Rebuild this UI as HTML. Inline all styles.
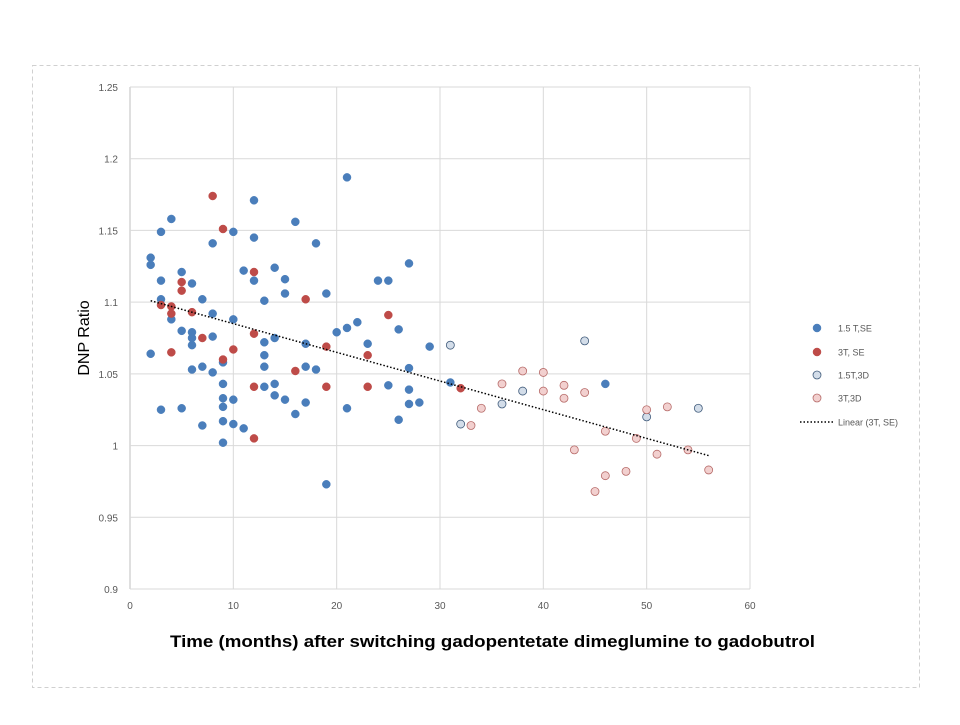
<!DOCTYPE html>
<html><head><meta charset="utf-8"><style>
body{margin:0;background:#fff;width:960px;height:720px;overflow:hidden;font-family:"Liberation Sans",sans-serif}
</style></head><body>
<svg id="chart" width="960" height="720" xmlns="http://www.w3.org/2000/svg" font-family="Liberation Sans, sans-serif">
<rect x="32.5" y="65.5" width="887" height="622" fill="none" stroke="#d0d0d0" stroke-dasharray="4,3"/>
<g id="grid"></g><g id="ticks"></g><g id="marks"></g>
<text transform="translate(89,338) rotate(-90)" text-anchor="middle" font-size="16" fill="#000">DNP Ratio</text>
<text x="170" y="647" textLength="645" lengthAdjust="spacingAndGlyphs" font-size="17" font-weight="bold" fill="#000">Time (months) after switching gadopentetate dimeglumine to gadobutrol</text>
<g id="legend"></g>
</svg>
<script>
const xTicks=[0,10,20,30,40,50,60];
const yTicks=[0.9,0.95,1,1.05,1.1,1.15,1.2,1.25];
const blueX=[2,2,2,3,3,3,3,4,4,5,5,5,6,6,6,6,6,7,7,7,8,8,8,8,9,9,9,9,9,9,10,10,10,10,11,11,12,12,12,13,13,13,13,13,14,14,14,14,15,15,15,16,16,17,17,17,18,18,19,19,20,21,21,21,22,23,24,25,25,26,26,27,27,27,27,28,29,31,46];
const blueY=[1.131,1.126,1.064,1.149,1.115,1.102,1.025,1.158,1.088,1.121,1.080,1.026,1.113,1.079,1.075,1.070,1.053,1.102,1.055,1.014,1.141,1.092,1.076,1.051,1.058,1.043,1.033,1.027,1.017,1.002,1.149,1.088,1.032,1.015,1.122,1.012,1.171,1.145,1.115,1.101,1.072,1.063,1.055,1.041,1.124,1.075,1.043,1.035,1.116,1.106,1.032,1.156,1.022,1.071,1.055,1.030,1.141,1.053,1.106,0.973,1.079,1.187,1.082,1.026,1.086,1.071,1.115,1.115,1.042,1.081,1.018,1.127,1.054,1.039,1.029,1.030,1.069,1.044,1.043];
const redX=[8,9,12,3,4,4,5,5,6,7,10,9,4,12,12,12,16,17,19,19,23,23,25,32];
const redY=[1.174,1.151,1.121,1.098,1.097,1.092,1.114,1.108,1.093,1.075,1.067,1.060,1.065,1.078,1.041,1.005,1.052,1.102,1.069,1.041,1.063,1.041,1.091,1.040];
const lbX=[31,32,36,38,44,50,55];
const lbY=[1.070,1.015,1.029,1.038,1.073,1.020,1.026];
const pkX=[33,34,36,38,40,40,42,42,43,44,45,46,46,48,49,50,51,52,54,56];
const pkY=[1.014,1.026,1.043,1.052,1.051,1.038,1.042,1.033,0.997,1.037,0.968,1.010,0.979,0.982,1.005,1.025,0.994,1.027,0.997,0.983];
const trendRange=[2,56];
const trendCoef=[1.105,-0.002];
const legendLabels=["1.5 T,SE","3T, SE","1.5T,3D","3T,3D","Linear (3T, SE)"];
const NS="http://www.w3.org/2000/svg";
const X0=130,X1=750,Y0=589,Y1=87;
const sx=v=>X0+(v-0)/(60-0)*(X1-X0);
const sy=v=>Y0-(v-0.9)/(1.25-0.9)*(Y0-Y1);
function mk(t,a,p){const e=document.createElementNS(NS,t);for(const k in a)e.setAttribute(k,a[k]);p.appendChild(e);return e;}
const grid=document.getElementById('grid'),ticks=document.getElementById('ticks'),marks=document.getElementById('marks'),leg=document.getElementById('legend');
xTicks.forEach(v=>{
 const l=mk('line',{x1:sx(v),x2:sx(v),y1:Y1,y2:Y0,stroke:v===0?'#bfbfbf':'#d9d9d9','stroke-width':1},grid);
 
 
 const t=mk('text',{x:sx(v),y:Y0+20,'text-anchor':'middle','font-size':10,fill:'#595959'},ticks);t.textContent=v;
 
 
});
yTicks.forEach(v=>{
 const l=mk('line',{x1:X0,x2:X1,y1:sy(v),y2:sy(v),stroke:'#d9d9d9','stroke-width':1},grid);
 
 
 const t=mk('text',{x:X0-12,y:sy(v)+4,'text-anchor':'end','font-size':10,fill:'#595959'},ticks);t.textContent=String(v);
 
 
});
const styles=[{f:'#4a7ebb',s:'#4a7ebb'},{f:'#be4b48',s:'#be4b48'},{f:'#d3dde9',s:'#3f5a7a'},{f:'#f2d0cf',s:'#b66a68'}];
const series=[[blueX,blueY,'point-1-5t-se'],[redX,redY,'point-3t-se'],[lbX,lbY,'point-1-5t-3d'],[pkX,pkY,'point-3t-3d']];
series.forEach((s,i)=>{s[0].forEach((x,j)=>{
 const c=mk('circle',{cx:sx(x),cy:sy(s[1][j]),r:4,fill:styles[i].f,stroke:styles[i].s,'stroke-width':i>1?0.8:0.5},marks);
 
 
});});
const tl=mk('line',{x1:sx(trendRange[0]),y1:sy(trendCoef[0]+trendCoef[1]*trendRange[0]),x2:sx(trendRange[1]),y2:sy(trendCoef[0]+trendCoef[1]*trendRange[1]),stroke:'#000','stroke-width':1.5,'stroke-dasharray':'1.5,2'},marks);


const ly=[328,352,375,398,422];
legendLabels.forEach((lab,i)=>{
 const g=mk('g',{},leg);
 
 
 if(i<4) mk('circle',{cx:817,cy:ly[i],r:4,fill:styles[i].f,stroke:styles[i].s,'stroke-width':i>1?0.8:0.5},g);
 else mk('line',{x1:800,x2:834,y1:ly[i],y2:ly[i],stroke:'#000','stroke-width':1.5,'stroke-dasharray':'1.5,2'},g);
 const t=mk('text',{x:838,y:ly[i]+3.5,'font-size':9,fill:'#595959'},g);t.textContent=lab;
});
</script>
</body></html>
